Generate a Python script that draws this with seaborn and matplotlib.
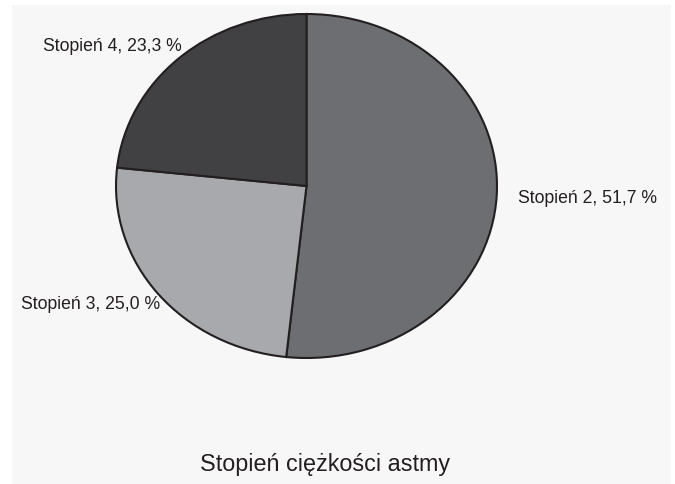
import matplotlib
matplotlib.use("Agg")
import matplotlib.pyplot as plt
from matplotlib.patches import Rectangle
import seaborn as sns

# Asthma severity shares (percent)
categories = ["Stopień 2", "Stopień 3", "Stopień 4"]
shares = [51.7, 25.0, 23.3]
share_labels = ["51,7 %", "25,0 %", "23,3 %"]
title = "Stopień ciężkości astmy"

sns.set_theme(style="white")
plt.rcParams["font.family"] = ["Liberation Sans", "DejaVu Sans"]

colors = ["#6d6e71", "#a7a9ac", "#414042"]
edge = "#231f20"
text_color = "#231f20"

W, H = 675, 484
fig = plt.figure(figsize=(W / 100, H / 100), dpi=100, facecolor="white")

# light panel behind the chart
fig.patches.append(Rectangle((12 / W, 0), (671 - 12) / W, (H - 5) / H,
                             transform=fig.transFigure, facecolor="#f7f7f7",
                             edgecolor="none", zorder=-5))

# pie axes (stretched, so the pie is drawn as an ellipse)
ax = fig.add_axes([116 / W, (H - 358) / H, (497 - 116) / W, (358 - 14) / H])
ax.set_zorder(1)
ax.set_facecolor("none")
wedges, _ = ax.pie(shares, colors=colors, startangle=90, counterclock=False,
                   wedgeprops=dict(edgecolor=edge, linewidth=1.5))
ax.set_aspect("auto")
ax.set_xlim(-1, 1)
ax.set_ylim(-1, 1)
ax.axis("off")

# label anchors (data coords of the stretched pie axes) and alignment
label_pos = [(1.11, -0.07, "left"), (-0.77, -0.69, "right"), (-0.655, 0.81, "right")]
for cat, lab, (x, y, ha) in zip(categories, share_labels, label_pos):
    ax.text(x, y, f"{cat}, {lab}", ha=ha, va="center", fontsize=12.7,
            color=text_color, clip_on=False)

fig.text(325.5 / W, 1 - 465 / H, title, ha="center", va="center",
         fontsize=16.8, color=text_color)

fig.savefig("out.png", dpi=100, facecolor="white")
